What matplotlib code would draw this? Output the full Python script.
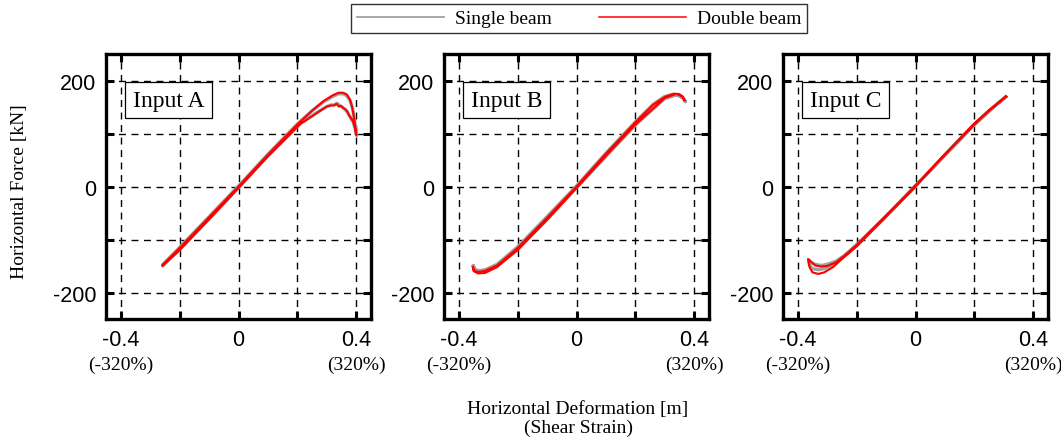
import numpy as np
import matplotlib.pyplot as plt
from matplotlib.lines import Line2D
import matplotlib.transforms as mtransforms

plt.rcParams['font.family'] = 'Liberation Sans'
SERIF = 'Liberation Serif'

# ---- data (horizontal deformation [m], horizontal force [kN]) ----
panel_names = ['Input A', 'Input B', 'Input C']

a_double_x = [-0.258, -0.2, -0.1, 0.0, 0.1, 0.2, 0.25, 0.288, 0.32, 0.34, 0.355, 0.367, 0.378,
              0.386, 0.393, 0.398, 0.400, 0.396, 0.388, 0.381, 0.376, 0.37, 0.363, 0.356, 0.348,
              0.34, 0.333, 0.325, 0.315, 0.30, 0.27, 0.21, 0.1, 0.0, -0.1, -0.2, -0.258]
a_double_f = [-148, -116, -58, 0, 60, 117, 143, 161, 172, 177, 177, 174, 165,
              150, 128, 106, 97, 110, 124, 130, 134, 141, 146, 148, 152,
              151, 156, 153, 153, 151, 140, 118, 57, -3, -62, -120, -150]
a_single_x = [-0.255, -0.2, -0.1, 0.0, 0.1, 0.2, 0.25, 0.29, 0.32, 0.34, 0.356, 0.368, 0.379,
              0.387, 0.394, 0.399, 0.401, 0.397, 0.39, 0.382, 0.375, 0.368, 0.36, 0.352,
              0.343, 0.335, 0.326, 0.315, 0.30, 0.27, 0.21, 0.1, 0.0, -0.1, -0.2, -0.255]
a_single_f = [-146, -115, -57, 1, 61, 118, 143, 160, 170, 175, 175, 171, 162,
              148, 126, 105, 96, 108, 121, 128, 135, 142, 146, 150,
              153, 157, 154, 154, 151, 141, 119, 58, -2, -61, -119, -148]

b_double_x = [-0.352, -0.345, -0.33, -0.31, -0.27, -0.2, -0.1, 0.0, 0.1, 0.2, 0.26, 0.3, 0.33,
              0.35, 0.362, 0.368, 0.36, 0.34, 0.3, 0.2, 0.1, 0.0, -0.1, -0.2, -0.27, -0.31,
              -0.335, -0.35, -0.352]
b_double_f = [-152, -160, -161, -159, -149, -116, -59, 0, 62, 121, 154, 169, 175,
              174, 168, 162, 170, 175, 167, 117, 58, -3, -63, -120, -152, -163,
              -164, -159, -152]
b_single_x = [-0.35, -0.343, -0.33, -0.31, -0.27, -0.2, -0.1, 0.0, 0.1, 0.2, 0.26, 0.3, 0.33,
              0.35, 0.363, 0.37, 0.362, 0.34, 0.3, 0.2, 0.1, 0.0, -0.1, -0.2, -0.27, -0.31,
              -0.333, -0.348, -0.35]
b_single_f = [-150, -157, -159, -157, -147, -114, -57, 1, 63, 122, 155, 170, 174,
              172, 166, 160, 167, 173, 166, 116, 57, -2, -62, -118, -150, -160,
              -161, -157, -150]

c_double_x = [0.308, 0.25, 0.2, 0.1, 0.0, -0.1, -0.2, -0.25, -0.28, -0.31, -0.33, -0.35, -0.36,
              -0.365, -0.355, -0.34, -0.32, -0.30, -0.27, -0.24, -0.2, -0.1, 0.0, 0.1, 0.2,
              0.25, 0.308]
c_double_f = [170, 144, 119, 61, 0, -57, -113, -137, -152, -162, -165, -162, -152,
              -137, -142, -149, -151, -150, -143, -130, -110, -55, 2, 60, 117,
              143, 170]
c_single_x = [0.306, 0.25, 0.2, 0.1, 0.0, -0.1, -0.2, -0.25, -0.28, -0.31, -0.33, -0.35, -0.36,
              -0.363, -0.352, -0.34, -0.32, -0.30, -0.27, -0.24, -0.2, -0.1, 0.0, 0.1, 0.2,
              0.25, 0.306]
c_single_f = [169, 143, 118, 60, 1, -56, -112, -134, -147, -155, -157, -155, -148,
              -138, -144, -147, -149, -147, -141, -130, -110, -56, 1, 59, 116,
              142, 169]

single_x = [a_single_x, b_single_x, c_single_x]
single_f = [a_single_f, b_single_f, c_single_f]
double_x = [a_double_x, b_double_x, c_double_x]
double_f = [a_double_f, b_double_f, c_double_f]

x_ticks = [-0.4, -0.2, 0.0, 0.2, 0.4]
x_labels = ['-0.4', '', '0', '', '0.4']
y_ticks = [-200, -100, 0, 100, 200]
y_labels = ['-200', '', '0', '', '200']
strain_labels = {-0.4: '(-320%)', 0.4: '(320%)'}

fig = plt.figure(figsize=(10.61, 4.39), dpi=100)
W, H = 1061, 439
lefts = [106, 444, 783]
ax_w, ax_top, ax_bot = 265, 55, 320

for i in range(3):
    ax = fig.add_axes([lefts[i] / W, 1 - ax_bot / H, ax_w / W, (ax_bot - ax_top) / H])
    ax.set_xlim(-0.45, 0.45)
    ax.set_ylim(-250, 250)
    for v in x_ticks:
        ax.axvline(v, color='black', lw=1.0, ls=(0, (5, 4)), zorder=1)
    for v in y_ticks:
        ax.axhline(v, color='black', lw=1.0, ls=(0, (5, 4)), zorder=1)
    ax.plot(single_x[i], single_f[i], color='#a0a0a0', lw=2.4, zorder=2)
    ax.plot(double_x[i], double_f[i], color='red', lw=1.5, zorder=3)

    ax.set_xticks(x_ticks)
    ax.set_xticklabels(x_labels)
    ax.set_yticks(y_ticks)
    ax.set_yticklabels(y_labels)
    ax.tick_params(direction='in', length=6, width=2.2, labelsize=15.5,
                   top=True, right=True, pad=7)
    for sp in ax.spines.values():
        sp.set_linewidth(2.4)

    trans = mtransforms.blended_transform_factory(ax.transData, ax.transAxes)
    for xv, lab in strain_labels.items():
        ax.text(xv, -0.17, lab, transform=trans, ha='center', va='center',
                fontsize=14, family=SERIF)

    ax.text(0.102, 0.826, panel_names[i], transform=ax.transAxes, ha='left', va='center',
            fontsize=17, family=SERIF,
            bbox=dict(boxstyle='square,pad=0.33', facecolor='white', edgecolor='black', lw=0.9),
            zorder=5)

fig.text(20 / W, 1 - 192 / H, 'Horizontal Force [kN]', rotation=90, ha='center', va='center',
         fontsize=14, family=SERIF)
fig.text(578 / W, 1 - 410 / H, 'Horizontal Deformation [m]', ha='center', va='center',
         fontsize=14, family=SERIF)
fig.text(578 / W, 1 - 428 / H, '(Shear Strain)', ha='center', va='center',
         fontsize=14, family=SERIF)

handles = [Line2D([], [], color='#a0a0a0', lw=1.3), Line2D([], [], color='red', lw=1.1)]
leg = fig.legend(handles, ['Single beam', 'Double beam'], loc='upper center',
                 bbox_to_anchor=(579 / W, 1 - 5 / H), ncol=2, frameon=True, fancybox=False,
                 edgecolor='black', prop={'family': SERIF, 'size': 14},
                 handlelength=4.5, handletextpad=0.55, columnspacing=2.4,
                 borderpad=0.3, borderaxespad=0)
leg.get_frame().set_linewidth(1.0)

fig.savefig('out.png', dpi=100)
